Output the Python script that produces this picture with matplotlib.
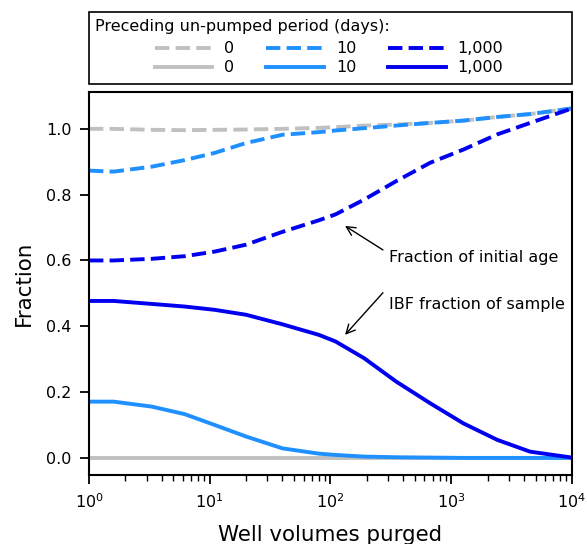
import numpy as np
import matplotlib
matplotlib.use("Agg")
import matplotlib.pyplot as plt
from matplotlib.patches import Rectangle

# well volumes purged (shared x grid)
volumes = [1, 1.6, 3.3, 6.2, 11, 20, 40, 80, 110, 190, 350, 670, 1260, 2400, 4500, 10000]

# fraction of initial age (dashed)
age_0 = [1.0, 1.0, 0.997, 0.996, 0.997, 0.998, 1.0, 1.003, 1.005, 1.01, 1.013, 1.018,
         1.025, 1.036, 1.045, 1.062]
age_10 = [0.873, 0.87, 0.885, 0.905, 0.927, 0.957, 0.982, 0.99, 0.995, 1.002, 1.01, 1.018,
          1.025, 1.036, 1.045, 1.062]
age_1000 = [0.60, 0.60, 0.605, 0.613, 0.627, 0.648, 0.687, 0.722, 0.74, 0.785, 0.841,
            0.897, 0.937, 0.983, 1.018, 1.062]

# IBF fraction of sample (solid)
ibf_0 = [0.0] * len(volumes)
ibf_10 = [0.171, 0.171, 0.156, 0.133, 0.10, 0.065, 0.029, 0.013, 0.009, 0.004, 0.002,
          0.001, 0.0, 0.0, 0.0, 0.0]
ibf_1000 = [0.477, 0.477, 0.468, 0.46, 0.45, 0.435, 0.406, 0.374, 0.354, 0.303, 0.232,
            0.166, 0.105, 0.055, 0.019, 0.001]

periods = ["0", "10", "1,000"]
colors = ["#c0c0c0", "#1e90ff", "#0000ee"]

fig = plt.figure(figsize=(5.87, 5.44), dpi=100)
ax = fig.add_axes([0.1516, 0.1268, 0.8228, 0.7041])

handles = []
labels = []
for lab, col, age, ibf in zip(periods, colors,
                              [age_0, age_10, age_1000],
                              [ibf_0, ibf_10, ibf_1000]):
    hd, = ax.plot(volumes, age, ls="--", color=col, lw=2.8)
    hs, = ax.plot(volumes, ibf, ls="-", color=col, lw=2.8)
    handles += [hd, hs]
    labels += [lab, lab]

ax.set_xscale("log")
ax.set_xlim(1, 1e4)
ax.set_ylim(-0.052, 1.112)
ax.set_yticks([0.0, 0.2, 0.4, 0.6, 0.8, 1.0])
ax.set_xlabel("Well volumes purged", fontsize=15.4, labelpad=10)
ax.set_ylabel("Fraction", fontsize=15.4, labelpad=9)
ax.tick_params(axis="both", which="major", labelsize=11.5, length=6.5, width=1.3, pad=6)
ax.tick_params(axis="both", which="minor", length=4, width=1.0)
for sp in ax.spines.values():
    sp.set_linewidth(1.5)

# labels with arrows pointing at the 1,000-day curves
arrow = dict(arrowstyle="->", color="black", lw=1, mutation_scale=16,
             shrinkA=0, shrinkB=0)
ax.annotate("", xy=(132, 0.705), xytext=(272, 0.632), arrowprops=arrow)
ax.annotate("", xy=(132, 0.374), xytext=(272, 0.502), arrowprops=arrow)
ax.text(305, 0.608, "Fraction of initial age", fontsize=11.5, va="center", ha="left")
ax.text(305, 0.465, "IBF fraction of sample", fontsize=11.5, va="center", ha="left")

# legend frame and title drawn above the axes
ax.add_patch(Rectangle((0, 1.021), 1, 0.188, transform=ax.transAxes, fill=False,
                       edgecolor="black", lw=1.2, clip_on=False))
ax.text(0.0124, 1.172, "Preceding un-pumped period (days):", transform=ax.transAxes,
        fontsize=11.5, ha="left", va="center")
ax.legend(handles, labels, ncol=3, loc="center", bbox_to_anchor=(0.497, 1.088),
          frameon=False, fontsize=11.5, handlelength=3.6, handletextpad=0.75,
          columnspacing=2.0, labelspacing=0.25, borderpad=0, borderaxespad=0)

fig.savefig("out.png", dpi=100)
